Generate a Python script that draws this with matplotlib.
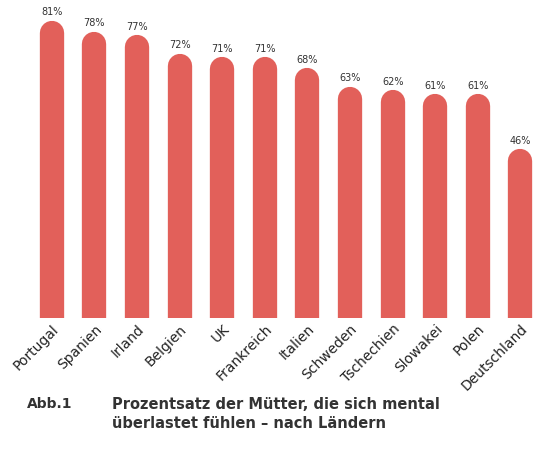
import matplotlib
matplotlib.use("Agg")
import matplotlib.pyplot as plt
import numpy as np

countries = ["Portugal","Spanien","Irland","Belgien","UK","Frankreich","Italien","Schweden","Tschechien","Slowakei","Polen","Deutschland"]
values = [81,78,77,72,71,71,68,63,62,61,61,46]
color = "#E2605A"

fig = plt.figure(figsize=(5.45,4.49), dpi=100)
ax = fig.add_axes([0.056, 0.292, 0.938, 0.686])
x = np.arange(len(values))
v = np.array(values, dtype=float)
r = 3.2
lc = ax.vlines(x, -10, v - r, colors=color, linewidth=17.5)
lc.set_capstyle("round")
for xi, val in zip(x, values):
    ax.text(xi, val + 1.0, f"{val}%", ha="center", va="bottom", fontsize=7, color="#333333")
ax.set_xlim(-0.5, 11.5)
ax.set_ylim(0, 84)
ax.set_xticks(x)
ax.set_xticklabels(countries, rotation=45, ha="right", rotation_mode="anchor", fontsize=10, color="#222222")
ax.tick_params(axis="x", length=0, pad=3)
ax.set_yticks([])
for s in ax.spines.values():
    s.set_visible(False)

fig.text(0.05, 0.115, "Abb.1", fontsize=10, fontweight="bold", color="#333333", va="top")
fig.text(0.205, 0.115, "Prozentsatz der Mütter, die sich mental\nüberlastet fühlen – nach Ländern",
         fontsize=10.5, fontweight="bold", color="#333333", va="top", linespacing=1.3)
fig.savefig("out.png", dpi=100)
